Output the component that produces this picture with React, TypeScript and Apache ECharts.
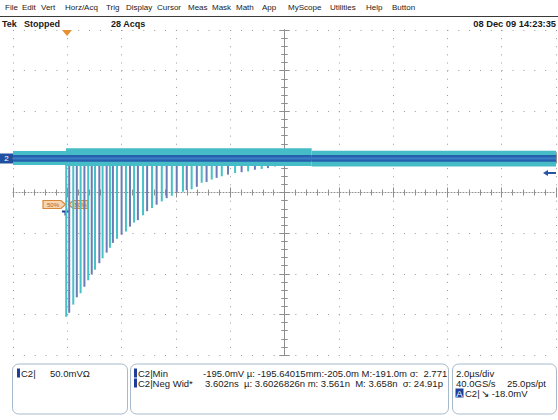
import React, { useEffect, useRef } from "react";
import * as echarts from "echarts";

// ---- data ----
const menuItems = ["File", "Edit", "Vert", "Horz/Acq", "Trig", "Display", "Cursor", "Meas", "Mask", "Math", "App", "MyScope", "Utilities", "Help", "Button"];
const menuX = [5, 22, 41, 65, 106, 126, 157, 188, 212, 236, 262, 288, 330, 366, 392];

// negative spikes: time (µs) and minimum (mV, relative to channel ground)
const spikeTime = [-8.04, -7.93, -7.78, -7.65, -7.51, -7.37, -7.23, -7.1, -6.98, -6.82, -6.7, -6.55, -6.43, -6.32, -6.17, -6.0, -5.84, -5.69, -5.54, -5.4, -5.21, -5.06, -4.88, -4.71, -4.52, -4.34, -4.15, -3.97, -3.74, -3.6, -3.42, -3.23, -3.05, -2.87, -2.68, -2.5, -2.31, -2.08, -1.82, -1.58, -1.34, -1.09, -0.84, -0.61, -0.35];
const spikeMin = [-195, -190, -180, -171, -166, -158, -150, -143, -137, -129, -123, -116, -110, -104, -99, -94, -90, -84, -79, -76, -70, -65, -61, -57, -53, -49, -46, -42, -41, -39, -38, -35, -30, -29, -26, -24, -22, -20, -18, -17, -16, -14, -13, -12, -10];

// noise band segments (µs, mV)
const bandStart = [-10, -8.05, 1];
const bandEnd = [-8.05, 1, 10];
const bandUpper = [9, 12.5, 9.5];
const bandLower = [-8, -9.5, -10];
const coreUpper = [4.3, 4.3, 4.3];
const coreLower = [-4, -4, -4];
const coreMidUpper = [1.3, 1.3, 1.3];
const coreMidLower = [-1.3, -1.3, -1.3];

const xTicks = { min: -10, max: 10, interval: 2 }; // 2 µs/div
const yTicks = { min: -242, max: 158, interval: 50 }; // 50 mV/div

const FONT = "'Liberation Sans', Arial, sans-serif";
const GRID = "#8e8e8e";

export default function App() {
  const ref = useRef<HTMLDivElement>(null);
  useEffect(() => {
    if (!ref.current) return;
    const chart = echarts.init(ref.current, null, { renderer: "svg" });

    const spikeData = spikeTime.map((t, i) => [t, spikeMin[i]]);
    const bandData = bandStart.map((s, i) => [s, bandEnd[i], bandUpper[i], bandLower[i]]);
    const coreData = bandStart.map((s, i) => [s, bandEnd[i], coreUpper[i], coreLower[i]]);
    const coreMidData = bandStart.map((s, i) => [s, bandEnd[i], coreMidUpper[i], coreMidLower[i]]);

    const baseX = (extra: any) => ({
      type: "value",
      min: xTicks.min,
      max: xTicks.max,
      interval: xTicks.interval,
      axisLabel: { show: false },
      splitLine: { show: false },
      ...extra,
    });
    const baseY = (extra: any) => ({
      type: "value",
      min: yTicks.min,
      max: yTicks.max,
      interval: yTicks.interval,
      axisLabel: { show: false },
      splitLine: { show: false },
      ...extra,
    });
    const edgeLine = { show: true, lineStyle: { color: GRID, width: 1 } };
    const centerLine = { show: true, lineStyle: { color: GRID, width: 1, type: [1, 2] } };
    const tick = (inside: boolean, len: number) => ({ show: true, inside, length: len, lineStyle: { color: GRID } });
    const minor = (len: number) => ({ show: true, splitNumber: 5, length: len, lineStyle: { color: GRID } });

    const rectItem = (params: any, api: any, color: string) => {
      const p0 = api.coord([api.value(0), api.value(2)]);
      const p1 = api.coord([api.value(1), api.value(3)]);
      return {
        type: "rect",
        shape: { x: p0[0], y: p0[1], width: p1[0] - p0[0], height: p1[1] - p0[1] },
        style: { fill: color },
      };
    };
    const rectSeries = (name: string, data: any[], color: string, z: number) => ({
      type: "custom",
      name,
      xAxisIndex: 0,
      yAxisIndex: 0,
      data,
      encode: { x: [0, 1], y: [2, 3] },
      z,
      renderItem: (params: any, api: any) => rectItem(params, api, color),
    });

    const text = (x: number, y: number, t: string, opts: any = {}) => ({
      type: "text",
      x,
      y,
      style: {
        text: t,
        fontSize: opts.size || 9.5,
        fontFamily: FONT,
        fontWeight: opts.bold ? "bold" : "normal",
        fill: opts.fill || "#1a1a1a",
        align: opts.align || "left",
        verticalAlign: "middle",
      },
    });

    const graphics: any[] = [];
    menuItems.forEach((m, i) => graphics.push(text(menuX[i], 7.5, m, { size: 8 })));
    graphics.push({ type: "line", shape: { x1: 0, y1: 16.5, x2: 558, y2: 16.5 }, style: { stroke: "#3a3a3a", lineWidth: 1 } });
    graphics.push(text(2, 24, "Tek", { bold: true, size: 9 }));
    graphics.push(text(24, 24, "Stopped", { bold: true, size: 9 }));
    graphics.push(text(111, 24, "28 Acqs", { bold: true, size: 9 }));
    graphics.push(text(556, 24, "08 Dec 09 14:23:35", { bold: true, size: 9.3, align: "right" }));

    // trigger position marker
    graphics.push({ type: "polygon", shape: { points: [[62, 30], [72, 30], [67, 36]] }, style: { fill: "#e8902e" } });
    // channel ground marker
    graphics.push({ type: "rect", shape: { x: 0, y: 153.5, width: 13, height: 10 }, style: { fill: "#1f4f9e" } });
    graphics.push(text(6.5, 158.5, "2", { size: 8, fill: "#ffffff", align: "center" }));
    // trigger level arrow
    graphics.push({ type: "polygon", shape: { points: [[543, 173], [548, 170], [548, 176]] }, style: { fill: "#2a55a0" } });
    graphics.push({ type: "rect", shape: { x: 547, y: 172, width: 9, height: 2 }, style: { fill: "#2a55a0" } });
    // measurement reference tags
    graphics.push({ type: "polygon", shape: { points: [[43, 200.5], [61, 200.5], [65.5, 204.5], [61, 208.5], [43, 208.5]] }, style: { fill: "#f7d5b0", stroke: "#d8883a", lineWidth: 1.2 } });
    graphics.push({ type: "polygon", shape: { points: [[68.5, 204.5], [73, 200.5], [88, 200.5], [88, 208.5], [73, 208.5]] }, style: { fill: "#f7d5b0", stroke: "#d8883a", lineWidth: 1.2 } });
    graphics.push(text(53, 204.8, "50%", { size: 6, fill: "#b45f1c", align: "center" }));
    graphics.push(text(80.5, 204.8, "50%", { size: 6, fill: "#b45f1c", align: "center" }));
    graphics.push({ type: "rect", shape: { x: 62, y: 210.5, width: 7, height: 2 }, style: { fill: "#1e3f99" } });
    graphics.push({ type: "rect", shape: { x: 64.5, y: 212, width: 2, height: 3.5 }, style: { fill: "#1e3f99" } });

    // bottom readout boxes
    const box = (x: number, w: number) => ({
      type: "rect",
      shape: { x, y: 364, width: w, height: 50, r: 6 },
      style: { fill: "#ffffff", stroke: "#a7bacb", lineWidth: 1 },
    });
    graphics.push(box(12.5, 115), box(130.5, 318), box(452.5, 104));
    const marker = (x: number, y: number) => ({ type: "rect", shape: { x, y: y - 4.5, width: 3, height: 9 }, style: { fill: "#1e3f99" } });
    graphics.push(marker(17, 373), text(21, 373, "C2|"), text(50, 373, "50.0mVΩ"));
    graphics.push(marker(134, 373), text(138, 373, "C2|Min"));
    graphics.push(marker(134, 383), text(138, 383, "C2|Neg Wid*"));
    graphics.push(text(203, 373, "-195.0mV µ: -195.64015mm:-205.0m M:-191.0m σ:  2.771"));
    graphics.push(text(205, 383, "3.602ns  µ: 3.6026826n m: 3.561n  M: 3.658n  σ: 24.91p"));
    graphics.push(text(456, 373, "2.0µs/div"));
    graphics.push(text(456, 383, "40.0GS/s"));
    graphics.push(text(546, 383, "25.0ps/pt", { align: "right" }));
    graphics.push({ type: "rect", shape: { x: 455.5, y: 388.5, width: 8, height: 9 }, style: { fill: "#1e3f99" } });
    graphics.push(text(459.5, 393, "A", { fill: "#ffffff", align: "center" }));
    graphics.push(text(465, 393, "C2|"));
    graphics.push(text(481, 393, "↘ -18.0mV"));

    chart.setOption({
      animation: false,
      backgroundColor: "#ffffff",
      grid: { left: 13, right: 2, top: 30, bottom: 65, containLabel: false },
      xAxis: [
        baseX({
          position: "bottom",
          axisLine: edgeLine,
          axisTick: tick(true, 5),
          minorTick: minor(3),
          splitLine: { show: true, lineStyle: { color: "#9a9a9a", width: 1, type: [1, 7.125] } },
        }),
        baseX({ position: "top", axisLine: edgeLine, axisTick: tick(true, 5), minorTick: minor(3) }),
        baseX({ position: "bottom", offset: -162.5, axisLine: centerLine, axisTick: tick(true, 5), minorTick: minor(3) }),
        baseX({ position: "bottom", offset: -162.5, axisLine: { show: false }, axisTick: tick(false, 5), minorTick: minor(3) }),
      ],
      yAxis: [
        baseY({
          position: "left",
          axisLine: edgeLine,
          axisTick: tick(true, 5),
          minorTick: minor(3),
          splitLine: { show: true, lineStyle: { color: "#9a9a9a", width: 1, type: [1, 9.86] } },
        }),
        baseY({ position: "right", axisLine: edgeLine, axisTick: tick(true, 5), minorTick: minor(3) }),
        baseY({ position: "left", offset: -271.5, axisLine: centerLine, axisTick: tick(true, 5), minorTick: minor(3) }),
        baseY({ position: "left", offset: -271.5, axisLine: { show: false }, axisTick: tick(false, 5), minorTick: minor(3) }),
      ],
      series: [
        {
          type: "custom",
          name: "spikes",
          xAxisIndex: 0,
          yAxisIndex: 0,
          data: spikeData,
          encode: { x: 0, y: 1 },
          z: 2,
          renderItem: (params: any, api: any) => {
            const t = api.value(0);
            const v = api.value(1);
            const top = api.coord([t, 0]);
            const bot = api.coord([t, v]);
            const color = params.dataIndex % 2 === 0 ? "#45c2c6" : "#6a7bb5";
            return {
              type: "rect",
              shape: { x: top[0] - 1, y: top[1], width: 2, height: bot[1] - top[1] },
              style: { fill: color },
            };
          },
        },
        rectSeries("band", bandData, "#46bcc6", 3),
        rectSeries("core", coreData, "#2560ad", 4),
        rectSeries("coreMid", coreMidData, "#3a7cc4", 5),
      ],
      graphic: { elements: graphics },
    });
    return () => chart.dispose();
  }, []);
  return <div ref={ref} style={{ position: "absolute", left: 0, top: 0, width: 558, height: 420 }} />;
}
